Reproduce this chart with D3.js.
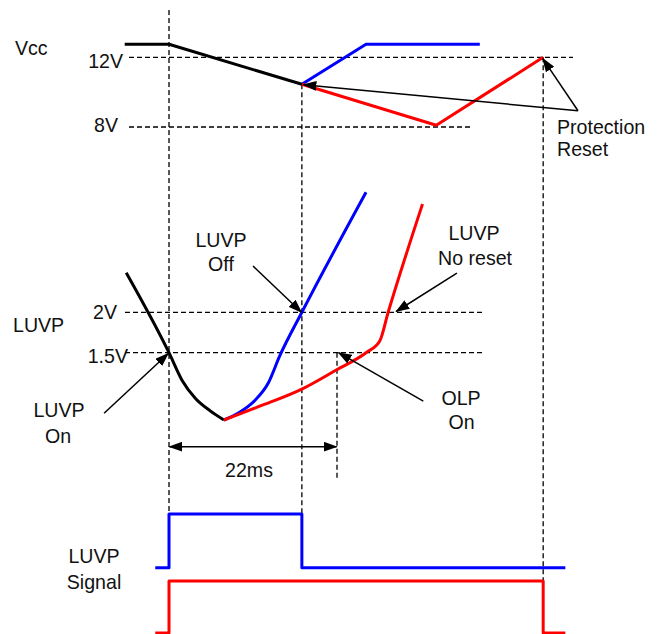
<!DOCTYPE html>
<html>
<head>
<meta charset="utf-8">
<script src="https://cdn.jsdelivr.net/npm/d3@7"></script>
<style>
  html, body { margin: 0; padding: 0; background: #fff; }
  svg { display: block; }
  text { font-family: "Liberation Sans", Arial, Helvetica, sans-serif; font-size: 20px; fill: #111; }
</style>
</head>
<body>
<svg id="chart" width="667" height="634"></svg>
<script>
// ---------- data (time in ms, voltages in V) ----------
const eventTimes = { luvpOn: 0, luvpOff: 17.4, olpOn: 22, reset: 49 };

const vccBlackT = [-5.8, 0, 17.4];
const vccBlackV = [12.75, 12.75, 10.45];
const vccBlueT  = [17.4, 25.8, 40.7];
const vccBlueV  = [10.45, 12.75, 12.75];
const vccRedT   = [17.4, 35, 49];
const vccRedV   = [10.45, 8.1, 12];

const luvpBlackT = [-5.6, 0, 1.7, 3.5, 5.4, 7.2];
const luvpBlackV = [2.49, 1.5, 1.16, 0.93, 0.78, 0.667];
const luvpBlueT  = [7.2, 9.3, 11.3, 13.0, 14.5, 17.4, 25.8];
const luvpBlueV  = [0.667, 0.766, 0.915, 1.125, 1.46, 2.0, 3.485];
const luvpRedT   = [7.2, 12.3, 17.4, 21.9, 25.8, 27.6, 28.7, 33.2];
const luvpRedV   = [0.667, 0.853, 1.05, 1.286, 1.5, 1.645, 2.0, 3.34];

const sigBlueT = [-1.8, 0, 17.4, 51.9];
const sigBlueV = [0, 1, 0, 0];
const sigRedT  = [-1.8, 0, 49, 51.9];
const sigRedV  = [0, 1, 0, 0];

const vccTicks  = [12, 8];
const vccTickLabels = ["12V", "8V"];
const luvpTicks = [2, 1.5];
const luvpTickLabels = ["2V", "1.5V"];

// ---------- scales ----------
const x   = d3.scaleLinear().domain([0, 22]).range([169, 337]);
const yV  = d3.scaleLinear().domain([8, 12]).range([127, 57.3]);
const yL  = d3.scaleLinear().domain([1.5, 2]).range([352.7, 312.3]);
const yB  = d3.scaleLinear().domain([0, 1]).range([567.7, 514]);
const yR  = d3.scaleLinear().domain([0, 1]).range([633, 581]);

const svg = d3.select("#chart");
const BLUE = "#0000ff", RED = "#ff0000", BLACK = "#000";

// markers
const defs = svg.append("defs");
defs.append("marker")
  .attr("id", "arr").attr("viewBox", "0 0 14 10")
  .attr("refX", 13).attr("refY", 5)
  .attr("markerWidth", 14).attr("markerHeight", 10)
  .attr("markerUnits", "userSpaceOnUse")
  .attr("orient", "auto-start-reverse")
  .append("path").attr("d", "M0,0 L14,5 L0,10 z").attr("fill", BLACK);

const dash = (x1, y1, x2, y2) => svg.append("line")
  .attr("x1", x1).attr("y1", y1).attr("x2", x2).attr("y2", y2)
  .attr("stroke", BLACK).attr("stroke-width", 1.3).attr("stroke-dasharray", "5,3");

// ---------- reference dashed lines ----------
dash(129, yV(12), 573, yV(12));
dash(129, yV(8), 470, yV(8));
dash(125, yL(2), 483, yL(2));
dash(125, yL(1.5), 483, yL(1.5));

dash(x(eventTimes.luvpOn), 10, x(eventTimes.luvpOn), yB(1));
dash(x(eventTimes.luvpOff), yV(10.45), x(eventTimes.luvpOff), yB(1));
dash(x(eventTimes.olpOn), yL(1.5), x(eventTimes.olpOn), 480);
dash(x(eventTimes.reset), yV(12), x(eventTimes.reset), yR(1));

// ---------- curves ----------
function drawLine(ts, vs, yScale, color, curve) {
  const pts = ts.map((t, i) => [t, vs[i]]);
  svg.append("path")
    .attr("d", d3.line().x(d => x(d[0])).y(d => yScale(d[1])).curve(curve || d3.curveLinear)(pts))
    .attr("fill", "none").attr("stroke", color).attr("stroke-width", 3)
    .attr("stroke-linejoin", "round");
}
drawLine(vccBlueT, vccBlueV, yV, BLUE);
drawLine(vccRedT, vccRedV, yV, RED);
drawLine(vccBlackT, vccBlackV, yV, BLACK);

drawLine(luvpBlackT, luvpBlackV, yL, BLACK, d3.curveMonotoneX);
drawLine(luvpBlueT, luvpBlueV, yL, BLUE, d3.curveMonotoneX);
drawLine(luvpRedT, luvpRedV, yL, RED, d3.curveMonotoneX);

drawLine(sigBlueT, sigBlueV, yB, BLUE, d3.curveStepAfter);
drawLine(sigRedT, sigRedV, yR, RED, d3.curveStepAfter);

// ---------- annotation arrows (data coords) ----------
function arrow(p1, p2, ys1, ys2, both) {
  const l = svg.append("line")
    .attr("x1", x(p1[0])).attr("y1", ys1(p1[1]))
    .attr("x2", x(p2[0])).attr("y2", ys2(p2[1]))
    .attr("stroke", BLACK).attr("stroke-width", 1.5)
    .attr("marker-end", "url(#arr)");
  if (both) l.attr("marker-start", "url(#arr)");
}
arrow([53.56, 8.93], [17.6, 10.43], yV, yV);
arrow([53.56, 8.93], [48.95, 11.92], yV, yV);
arrow([11.0, 2.573], [17.35, 2.0], yL, yL);
arrow([37.7, 2.486], [29.75, 2.01], yL, yL);
arrow([33.3, 0.90], [22.2, 1.5], yL, yL);
arrow([-8.5, 0.75], [-0.1, 1.49], yL, yL);
arrow([0.05, 0.337], [21.95, 0.337], yL, yL, true);

// ---------- texts ----------
function label(txt, px, py, anchor) {
  svg.append("text")
    .attr("transform", `translate(${px},${py}) scale(0.98,1.05)`)
    .attr("text-anchor", anchor || "start").text(txt);
}
label("Vcc", 15, 55);
vccTicks.forEach((v, i) => label(vccTickLabels[i], i === 0 ? 123 : 118, yV(v) + (i === 0 ? 10.7 : 4.7), "end"));
label("Protection", 557, 134);
label("Reset", 557, 156);

label("LUVP", 13, 331.7);
luvpTicks.forEach((v, i) => label(luvpTickLabels[i], i === 0 ? 117 : 128, yL(v) + (i === 0 ? 6.7 : 10), "end"));

label("LUVP", 221, 246.7, "middle");
label("Off", 221, 270.7, "middle");
label("LUVP", 474, 240, "middle");
label("No reset", 475, 265, "middle");
label("LUVP", 59, 416.7, "middle");
label("On", 58, 443, "middle");
label("OLP", 461, 405, "middle");
label("On", 461.5, 429, "middle");
label("22ms", 249, 476.7, "middle");
label("LUVP", 94, 563.3, "middle");
label("Signal", 94, 589.3, "middle");
</script>
</body>
</html>
